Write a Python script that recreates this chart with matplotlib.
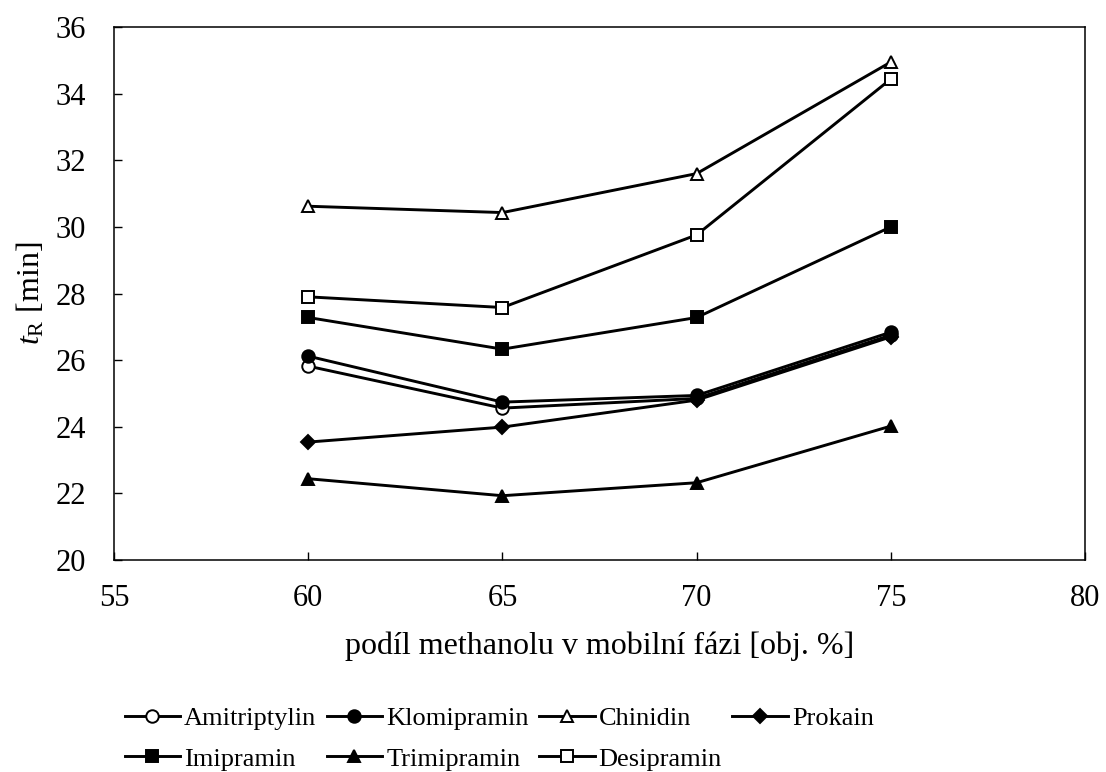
import matplotlib.pyplot as plt

plt.rcParams['font.family'] = ['Liberation Serif', 'DejaVu Serif']
plt.rcParams['mathtext.fontset'] = 'custom'
plt.rcParams['mathtext.rm'] = 'Liberation Serif'
plt.rcParams['mathtext.it'] = 'Liberation Serif:italic'

# methanol fraction [vol. %]
x = [60, 65, 70, 75]

# retention times [min]
amitriptylin = [25.82, 24.56, 24.85, 26.75]
klomipramin = [26.12, 24.74, 24.94, 26.84]
chinidin = [30.62, 30.43, 31.60, 34.95]
prokain = [23.54, 23.99, 24.80, 26.70]
imipramin = [27.28, 26.33, 27.28, 30.00]
trimipramin = [22.44, 21.93, 22.32, 24.02]
desipramin = [27.90, 27.58, 29.76, 34.44]

# (name, values, marker, filled) - ordered so the 4-column legend reads row-wise
series = [
    ('Amitriptylin', amitriptylin, 'o', False),
    ('Imipramin', imipramin, 's', True),
    ('Klomipramin', klomipramin, 'o', True),
    ('Trimipramin', trimipramin, '^', True),
    ('Chinidin', chinidin, '^', False),
    ('Desipramin', desipramin, 's', False),
    ('Prokain', prokain, 'D', True),
]

fig = plt.figure(figsize=(11.06, 7.72), dpi=100)
ax = fig.add_axes([0.1031, 0.2746, 0.878, 0.6904])

for name, vals, mk, filled in series:
    ms = 7.5 if mk == 'D' else 9
    ax.plot(x, vals, color='black', lw=2.1, marker=mk, ms=ms,
            mfc='black' if filled else 'white', mec='black', mew=1.4,
            label=name)

ax.set_xlim(55, 80)
ax.set_ylim(20, 36)
ax.set_xticks([55, 60, 65, 70, 75, 80])
ax.set_yticks(range(20, 37, 2))
ax.tick_params(axis='both', labelsize=22, direction='in', length=5.5, width=1)
ax.tick_params(axis='x', pad=17.5)
ax.tick_params(axis='y', pad=20)
for s in ax.spines.values():
    s.set_linewidth(1.1)

ax.set_xlabel('podíl methanolu v mobilní fázi [obj. %]', fontsize=23, labelpad=13)
ax.set_ylabel(r'$t_{\mathrm{R}}$ [min]', fontsize=23, labelpad=7)

ax.legend(loc='upper left', bbox_to_anchor=(0.0, -0.255), ncol=4, frameon=False,
          fontsize=19, handlelength=2.1, handletextpad=0.15, columnspacing=0.4,
          labelspacing=0.65, borderaxespad=0)

plt.savefig('out.png', dpi=100)
plt.close()
